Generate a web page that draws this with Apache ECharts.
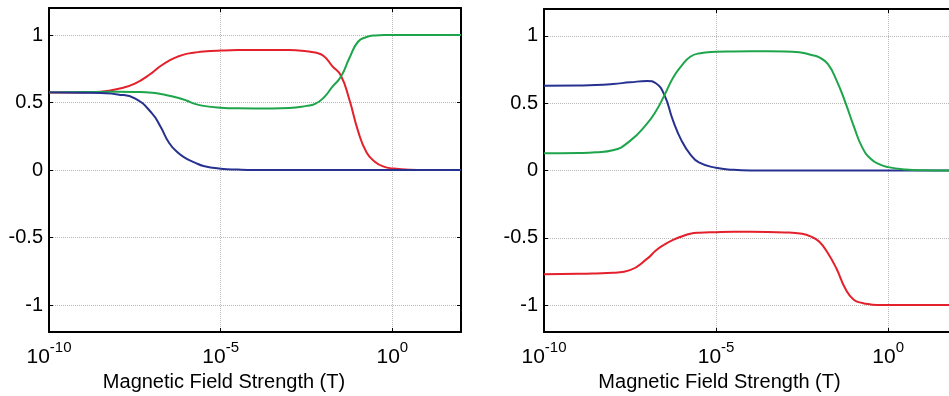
<!DOCTYPE html>
<html>
<head>
<meta charset="utf-8" />
<title></title>
<script src="https://cdn.jsdelivr.net/npm/echarts@6/dist/echarts.min.js"></script>
<style>
  html, body { margin: 0; padding: 0; background: #fff; }
  #main { width: 949px; height: 396px; }
</style>
</head>
<body>
<div id="main"></div>
<script>
// x values are log10 of field strength (T)
var expo = [-10, -9, -8.5, -8, -7.5, -7, -6.75, -6.5, -6.25, -6, -5.75, -5.5, -5, -4.5, -4, -3, -2.5, -2.25, -2, -1.75, -1.5, -1.25, -1, -0.75, -0.5, -0.25, 0, 0.5, 1, 2];

// left panel
var leftRed   = [0.575, 0.575, 0.58, 0.60, 0.64, 0.72, 0.77, 0.81, 0.84, 0.86, 0.87, 0.878, 0.885, 0.888, 0.888, 0.888, 0.88, 0.87, 0.845, 0.77, 0.70, 0.52, 0.29, 0.13, 0.06, 0.025, 0.012, 0.002, 0, 0];
var leftGreen = [0.575, 0.577, 0.578, 0.58, 0.578, 0.572, 0.563, 0.55, 0.535, 0.515, 0.49, 0.475, 0.462, 0.457, 0.456, 0.46, 0.475, 0.49, 0.535, 0.615, 0.69, 0.83, 0.95, 0.985, 0.997, 1, 1, 1, 1, 1];
var leftBlue  = [0.575, 0.573, 0.57, 0.56, 0.53, 0.42, 0.32, 0.20, 0.13, 0.085, 0.055, 0.03, 0.01, 0.003, 0, 0, 0, 0, 0, 0, 0, 0, 0, 0, 0, 0, 0, 0, 0, 0];

// right panel
var rightRed   = [-0.77, -0.768, -0.765, -0.76, -0.74, -0.655, -0.595, -0.55, -0.515, -0.49, -0.47, -0.462, -0.458, -0.456, -0.456, -0.46, -0.47, -0.49, -0.53, -0.615, -0.73, -0.875, -0.96, -0.985, -0.995, -1, -1, -1, -1, -1];
var rightGreen = [0.128, 0.13, 0.135, 0.15, 0.22, 0.35, 0.44, 0.56, 0.69, 0.78, 0.845, 0.87, 0.882, 0.885, 0.886, 0.885, 0.875, 0.86, 0.84, 0.79, 0.67, 0.51, 0.33, 0.17, 0.085, 0.045, 0.025, 0.008, 0.002, 0];
var rightBlue  = [0.63, 0.632, 0.635, 0.643, 0.655, 0.665, 0.648, 0.56, 0.37, 0.22, 0.12, 0.06, 0.02, 0.005, 0, 0, 0, 0, 0, 0, 0, 0, 0, 0, 0, 0, 0, 0, 0, 0];

var yTicks = [-1, -0.5, 0, 0.5, 1];
var xAxisName = 'Magnetic Field Strength (T)';

var RED = '#e3202b', GREEN = '#1ea54b', BLUE = '#27318f';
var FONT = 'Liberation Sans, Arial, sans-serif';

function pairs(ys) {
  return expo.map(function (e, i) { return [e, ys[i]]; });
}

function xBottom(gi) {
  return {
    type: 'value', gridIndex: gi, min: -10, max: 2, interval: 5, position: 'bottom',
    axisLine: { onZero: false, lineStyle: { color: '#000', width: 2 } },
    axisTick: { inside: true, length: 4, lineStyle: { color: '#000', width: 1 } },
    splitLine: { show: true, lineStyle: { color: '#b8b8b8', type: 'dotted', width: 1 } },
    axisLabel: {
      margin: 8, showMaxLabel: false,
      formatter: function (v) { return (v % 5 === 0) ? '{b|10}{s|' + v + '}' : ''; },
      rich: {
        b: { fontSize: 21, fontFamily: FONT, color: '#000', lineHeight: 28, verticalAlign: 'bottom' },
        s: { fontSize: 15, fontFamily: FONT, color: '#000', lineHeight: 14, verticalAlign: 'top' }
      }
    },
    name: xAxisName, nameLocation: 'middle', nameGap: 40,
    nameTextStyle: { fontSize: 20, fontFamily: FONT, color: '#000', padding: [0, 62, 0, 0] }
  };
}
function xTop(gi) {
  return {
    type: 'value', gridIndex: gi, min: -10, max: 2, interval: 5, position: 'top',
    axisLine: { onZero: false, lineStyle: { color: '#000', width: 2 } },
    axisTick: { inside: true, length: 4, lineStyle: { color: '#000', width: 1 } },
    axisLabel: { show: false }, splitLine: { show: false }
  };
}
function yLeft(gi) {
  return {
    type: 'value', gridIndex: gi, min: -1.2, max: 1.2, position: 'left',
    axisLine: { onZero: false, lineStyle: { color: '#000', width: 2 } },
    axisTick: { inside: true, length: 4, customValues: yTicks, lineStyle: { color: '#000', width: 1 } },
    splitLine: { show: true, lineStyle: { color: '#b8b8b8', type: 'dotted', width: 1 } },
    axisLabel: { margin: 6, customValues: yTicks, fontSize: 20, fontFamily: FONT, color: '#000' }
  };
}
function yRight(gi) {
  return {
    type: 'value', gridIndex: gi, min: -1.2, max: 1.2, position: 'right',
    axisLine: { onZero: false, lineStyle: { color: '#000', width: 2 } },
    axisTick: { inside: true, length: 4, customValues: yTicks, lineStyle: { color: '#000', width: 1 } },
    axisLabel: { show: false }, splitLine: { show: false }
  };
}
function line(data, color, xi, yi) {
  return {
    type: 'line', xAxisIndex: xi, yAxisIndex: yi, data: pairs(data),
    showSymbol: false, smooth: 0.5, silent: true,
    lineStyle: { color: color, width: 2 }, itemStyle: { color: color }
  };
}

var mycharts = echarts.init(document.getElementById('main'));
mycharts.setOption({
  animation: false,
  backgroundColor: '#fff',
  grid: [
    { left: 49, top: 8, width: 412, height: 324, outerBoundsMode: 'none' },
    { left: 544, top: 9, width: 413, height: 323, outerBoundsMode: 'none' }
  ],
  xAxis: [xBottom(0), xTop(0), xBottom(1), xTop(1)],
  yAxis: [yLeft(0), yRight(0), yLeft(1), yRight(1)],
  series: [
    line(leftRed, RED, 0, 0),
    line(leftGreen, GREEN, 0, 0),
    line(leftBlue, BLUE, 0, 0),
    line(rightBlue, BLUE, 2, 2),
    line(rightRed, RED, 2, 2),
    line(rightGreen, GREEN, 2, 2)
  ]
});
</script>
</body>
</html>
